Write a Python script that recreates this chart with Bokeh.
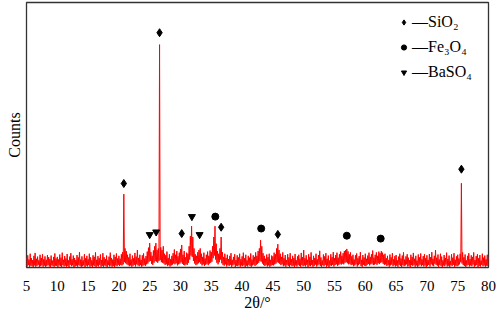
from bokeh.plotting import figure
from bokeh.models import FixedTicker, Legend, LegendItem, Range1d, Title
from bokeh.embed import file_html
from bokeh.resources import INLINE

# XRD scan. The trace oscillates densely, so for every
# 0.2 deg step an upper value (at 5.0, 5.2, ...) and a lower value in between
# (at 5.1, 5.3, ...) are listed.
scan_start = 5.0
scan_step = 0.2
counts_high = [
    # 5.0 - 9.8
    38, 46, 30, 52, 35, 28, 44, 55, 33, 41, 27, 48, 36, 50, 31, 42, 29, 47, 39, 32, 45, 26, 40, 53, 34,
    # 10.0 - 14.8
    40, 30, 49, 37, 56, 29, 43, 34, 51, 27, 41, 54, 31, 45, 36, 28, 47, 38, 58, 30, 42, 27, 50, 35, 44,
    # 15.0 - 19.8
    31, 52, 38, 27, 46, 40, 57, 29, 43, 35, 49, 28, 54, 39, 32, 45, 27, 41, 56, 36, 30, 48, 40, 53, 34,
    # 20.0 - 24.8
    44, 33, 50, 58, 277, 72, 62, 48, 38, 52, 30, 45, 35, 55, 41, 66, 36, 48, 29, 46, 53, 34, 43, 60, 75,
    # 25.0 - 29.8
    92, 58, 44, 64, 80, 92, 66, 72, 841, 76, 66, 80, 52, 46, 60, 36, 50, 31, 44, 54, 68, 48, 62, 42, 56,
    # 30.0 - 34.8
    70, 85, 48, 62, 38, 56, 52, 80, 118, 156, 115, 72, 50, 44, 58, 66, 72, 52, 40, 56, 34, 48, 60, 44, 64,
    # 35.0 - 39.8
    58, 80, 115, 156, 90, 62, 52, 72, 115, 58, 40, 52, 36, 48, 32, 44, 54, 29, 40, 50, 28, 46, 38, 52, 31,
    # 40.0 - 44.8
    42, 56, 35, 48, 27, 44, 37, 53, 30, 46, 40, 57, 44, 62, 72, 103, 80, 54, 44, 33, 49, 39, 52, 29, 45,
    # 45.0 - 49.8
    42, 56, 50, 72, 88, 66, 52, 40, 57, 35, 47, 28, 50, 38, 54, 31, 44, 36, 51, 27, 42, 48, 33, 55, 39,
    # 50.0 - 54.8
    66, 35, 46, 29, 50, 40, 57, 28, 44, 36, 52, 31, 47, 63, 38, 27, 49, 42, 54, 33, 45, 26, 50, 39, 58,
    # 55.0 - 59.8
    35, 47, 56, 37, 50, 60, 44, 54, 62, 66, 70, 61, 50, 57, 42, 48, 30, 46, 53, 35, 43, 58, 29, 47, 38,
    # 60.0 - 64.8
    52, 33, 45, 56, 40, 50, 64, 37, 48, 57, 44, 60, 54, 62, 56, 48, 52, 35, 44, 28, 49, 38, 54, 31, 43,
    # 65.0 - 69.8
    47, 27, 41, 52, 34, 45, 57, 30, 42, 50, 37, 28, 48, 40, 55, 33, 44, 26, 49, 38, 53, 31, 43, 50, 35,
    # 70.0 - 74.8
    46, 28, 51, 39, 58, 33, 44, 66, 37, 49, 30, 52, 41, 27, 47, 36, 56, 32, 45, 25, 50, 37, 54, 29, 42,
    # 75.0 - 79.8
    48, 34, 52, 318, 57, 38, 49, 27, 44, 54, 32, 46, 40, 57, 28, 43, 50, 35, 47, 26, 52, 37, 45, 31, 48,
    # 80.0
    40,
]
counts_low = [
    # 5.1 - 9.9
    4, 9, 2, 7, 5, 1, 8, 3, 6, 10, 2, 5, 8, 3, 7, 1, 6, 9, 4, 2, 8, 5, 3, 7, 6,
    # 10.1 - 14.9
    2, 8, 5, 1, 9, 4, 7, 3, 6, 2, 10, 5, 8, 1, 4, 7, 3, 9, 6, 2, 5, 8, 1, 7, 4,
    # 15.1 - 19.9
    9, 3, 6, 2, 8, 5, 1, 7, 4, 10, 3, 6, 2, 8, 5, 1, 9, 4, 7, 3, 6, 2, 8, 5, 10,
    # 20.1 - 24.9
    6, 10, 8, 12, 20, 16, 12, 9, 5, 8, 3, 7, 10, 4, 12, 8, 5, 9, 3, 7, 10, 6, 12, 15, 22,
    # 25.1 - 29.9
    25, 14, 10, 18, 24, 22, 18, 25, 28, 20, 18, 15, 10, 12, 6, 9, 4, 8, 11, 15, 12, 16, 8, 12, 15,
    # 30.1 - 34.9
    20, 14, 10, 8, 12, 10, 18, 30, 45, 40, 25, 15, 9, 12, 16, 20, 14, 8, 12, 6, 10, 14, 9, 15, 18,
    # 35.1 - 39.9
    22, 35, 45, 30, 18, 12, 20, 30, 16, 10, 7, 12, 4, 9, 6, 10, 3, 8, 11, 2, 7, 5, 9, 3, 8,
    # 40.1 - 44.9
    5, 9, 2, 7, 4, 10, 6, 3, 8, 11, 6, 10, 14, 18, 25, 22, 15, 9, 6, 10, 4, 8, 3, 7, 9,
    # 45.1 - 49.9
    8, 12, 15, 20, 18, 14, 9, 12, 5, 8, 3, 10, 6, 2, 9, 5, 7, 1, 8, 4, 10, 6, 3, 9, 5,
    # 50.1 - 54.9
    8, 4, 10, 2, 7, 5, 9, 3, 6, 11, 4, 8, 12, 6, 2, 9, 5, 10, 3, 7, 1, 8, 6, 10, 4,
    # 55.1 - 59.9
    9, 12, 6, 10, 14, 11, 15, 12, 18, 20, 16, 12, 14, 9, 11, 5, 8, 12, 4, 9, 13, 6, 3, 10, 7,
    # 60.1 - 64.9
    5, 10, 13, 8, 12, 15, 9, 11, 14, 10, 16, 13, 18, 20, 14, 10, 12, 6, 9, 3, 8, 11, 5, 9, 4,
    # 65.1 - 69.9
    7, 3, 10, 6, 2, 9, 5, 8, 12, 4, 7, 1, 9, 6, 10, 3, 8, 2, 7, 11, 5, 9, 4, 8, 2,
    # 70.1 - 74.9
    6, 10, 4, 12, 8, 5, 14, 10, 7, 3, 9, 6, 2, 8, 5, 11, 4, 7, 1, 9, 6, 10, 3, 7, 5,
    # 75.1 - 79.9
    8, 12, 20, 15, 9, 6, 2, 7, 10, 4, 8, 5, 11, 3, 7, 9, 2, 6, 4, 10, 5, 8, 3, 7, 6,
]

two_theta = []
counts = []
for i, hi in enumerate(counts_high):
    two_theta.append(round(scan_start + scan_step * i, 2))
    counts.append(hi)
    if i < len(counts_low):
        two_theta.append(round(scan_start + scan_step * i + scan_step / 2, 2))
        counts.append(counts_low[i])

# phase markers (2-theta, marker height in counts)
sio2_x = [20.8, 26.6, 30.2, 36.6, 45.8, 75.6]
sio2_y = [317, 886, 128, 152, 125, 371]
fe3o4_x = [35.65, 43.1, 57.0, 62.5]
fe3o4_y = [192, 147, 120, 109]
baso4_x = [25.0, 26.05, 31.85, 33.1]
baso4_y = [124, 134, 192, 124]

x_ticks = [5, 10, 15, 20, 25, 30, 35, 40, 45, 50, 55, 60, 65, 70, 75, 80]
x_min, x_max = 5, 80
y_min, y_max = 0, 1000

FONT = "Liberation Serif"

p = figure(
    output_backend="svg", toolbar_location=None,
    width=498, height=313,
    x_range=Range1d(x_min, x_max), y_range=Range1d(y_min, y_max),
    y_axis_location=None,
    min_border_left=25, min_border_right=10, min_border_top=2, min_border_bottom=0,
)
p.grid.visible = False
p.outline_line_color = "#333333"
p.outline_line_width = 1.3

p.line(two_theta, counts, line_color="#ff0000", line_width=1)

r_sio2 = p.scatter(sio2_x, sio2_y, marker="diamond", size=8, color="black")
r_fe = p.scatter(fe3o4_x, fe3o4_y, marker="circle", size=7, color="black")
r_ba = p.scatter(baso4_x, baso4_y, marker="inverted_triangle", size=7, color="black")

xa = p.xaxis[0]
xa.ticker = FixedTicker(ticks=x_ticks)
xa.major_tick_out = 0
xa.major_tick_in = 0
xa.minor_tick_out = 0
xa.minor_tick_in = 0
xa.axis_line_alpha = 0
xa.major_label_standoff = 13
xa.major_label_text_font = FONT
xa.major_label_text_font_size = "15px"
xa.major_label_text_color = "black"
xa.axis_label = "2θ/°"
xa.axis_label_text_font = FONT
xa.axis_label_text_font_size = "16px"
xa.axis_label_text_font_style = "normal"
xa.axis_label_text_color = "black"
xa.axis_label_standoff = 0

# y title only (the vertical axis has no ticks or tick labels)
p.add_layout(Title(text="Counts", align="center", text_font=FONT, text_font_size="16px",
                   text_font_style="normal", text_color="black", standoff=7), "left")

legend = Legend(
    items=[
        LegendItem(label="—SiO₂", renderers=[r_sio2]),
        LegendItem(label="—Fe₃O₄", renderers=[r_fe]),
        LegendItem(label="—BaSO₄", renderers=[r_ba]),
    ],
    location=(371, 185),
    padding=0, margin=0, spacing=5,
    glyph_width=13, glyph_height=20, label_height=20, label_standoff=2,
    label_text_font=FONT, label_text_font_size="16px", label_text_color="black",
    border_line_color=None, background_fill_alpha=0,
)
p.add_layout(legend)

open("out.html", "w").write(file_html(p, INLINE))
